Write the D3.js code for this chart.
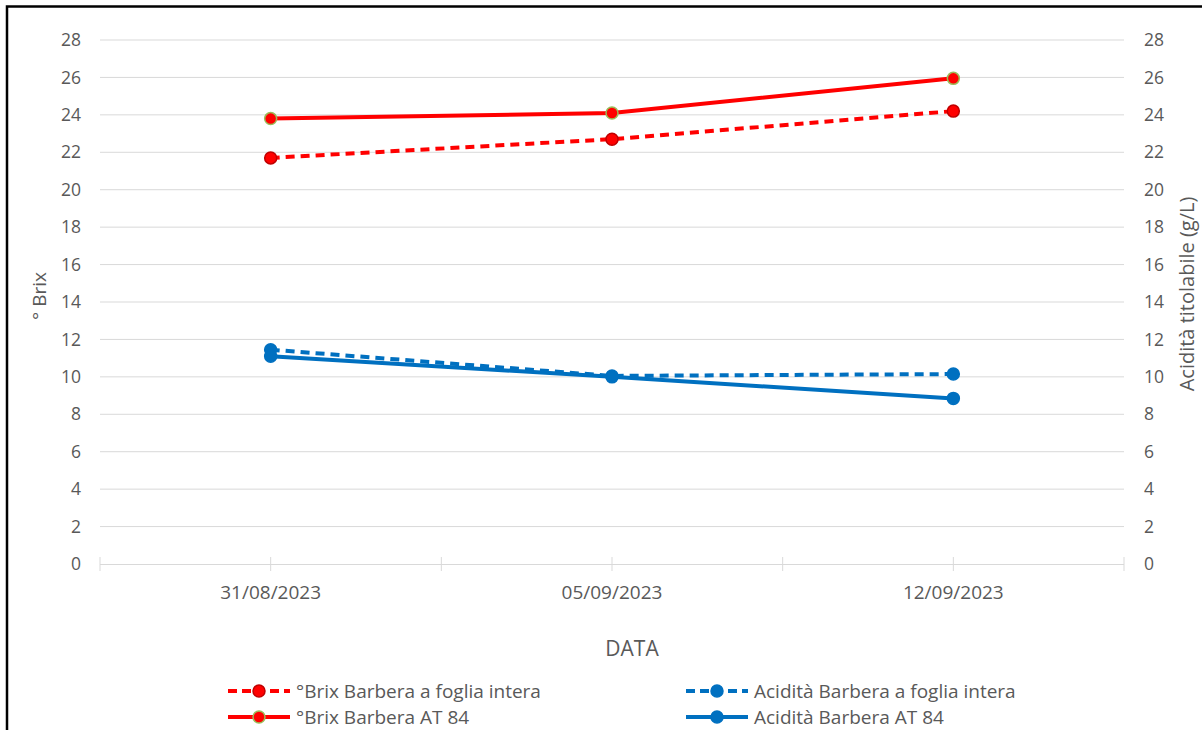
<!DOCTYPE html>
<html>
<head>
<meta charset="utf-8">
<script src="https://cdn.jsdelivr.net/npm/d3@7"></script>
<style>
body { margin: 0; background: #fff; }
text { font-family: "Open Sans", sans-serif; fill: #595959; }
</style>
</head>
<body>
<div></div>
<script>
var width = 1202;
var height = 730;

var dates = ['31/08/2023', '05/09/2023', '12/09/2023'];
var brixFoglia = [21.7, 22.7, 24.2];
var brixAT84 = [23.8, 24.1, 25.95];
var acidFoglia = [11.45, 10.05, 10.15];
var acidAT84 = [11.1, 10.0, 8.85];
var yTicks = [0, 2, 4, 6, 8, 10, 12, 14, 16, 18, 20, 22, 24, 26, 28];

var series = [
    { name: '°Brix Barbera a foglia intera', values: brixFoglia, color: '#ff0000', dash: '9,6', stroke: '#c00000' },
    { name: 'Acidità Barbera a foglia intera', values: acidFoglia, color: '#0070c0', dash: '9,6', stroke: '#0070c0' },
    { name: '°Brix Barbera AT 84', values: brixAT84, color: '#ff0000', dash: null, stroke: '#9bbb59' },
    { name: 'Acidità Barbera AT 84', values: acidAT84, color: '#0070c0', dash: null, stroke: '#0070c0' }
];

var svg = d3.select('div')
    .append('svg').attr('width', width).attr('height', height);

// frame, cut off on right and bottom like the source screenshot
svg.append('path')
    .attr('d', 'M7,' + height + 'V6.5H' + width)
    .attr('fill', 'none').attr('stroke', '#000').attr('stroke-width', 2.5);

var plotLeft = 100, plotRight = 1124, plotTop = 40, plotBottom = 564;

var x = d3.scaleBand().domain(dates).range([plotLeft, plotRight]);
var y = d3.scaleLinear().domain([0, 28]).range([plotBottom, plotTop]);

var g = svg.append('g');

// gridlines
g.selectAll('line.grid')
    .data(yTicks.filter(function (d) { return d > 0; }))
    .enter().append('line')
    .attr('x1', plotLeft).attr('x2', plotRight)
    .attr('y1', function (d) { return y(d); })
    .attr('y2', function (d) { return y(d); })
    .attr('stroke', '#d9d9d9').attr('stroke-width', 1);

// left axis labels
g.selectAll('text.yl')
    .data(yTicks).enter().append('text')
    .attr('x', 81).attr('y', function (d) { return y(d); })
    .attr('dy', '0.35em').attr('text-anchor', 'end')
    .style('font-size', '17.5px')
    .text(function (d) { return d; });

// right axis labels
g.selectAll('text.yr')
    .data(yTicks).enter().append('text')
    .attr('x', 1144).attr('y', function (d) { return y(d); })
    .attr('dy', '0.35em').attr('text-anchor', 'start')
    .style('font-size', '17.5px')
    .text(function (d) { return d; });

// x axis
g.append('line')
    .attr('x1', plotLeft).attr('x2', plotRight)
    .attr('y1', plotBottom + 0.5).attr('y2', plotBottom + 0.5)
    .attr('stroke', '#d9d9d9');

var edges = [];
dates.forEach(function (d) { edges.push(x(d)); edges.push(x(d) + x.bandwidth() / 2); });
edges.push(plotRight);
g.selectAll('line.xt')
    .data(edges).enter().append('line')
    .attr('x1', function (d) { return d; }).attr('x2', function (d) { return d; })
    .attr('y1', plotBottom - 7).attr('y2', plotBottom + 7)
    .attr('stroke', '#d9d9d9');

g.selectAll('text.xl')
    .data(dates).enter().append('text')
    .attr('x', function (d) { return x(d) + x.bandwidth() / 2; })
    .attr('y', 599).attr('text-anchor', 'middle')
    .style('font-size', '19px')
    .text(function (d) { return d; });

// axis titles
svg.append('text')
    .attr('transform', 'translate(46,296) rotate(-90)')
    .attr('text-anchor', 'middle')
    .style('font-size', '19px')
    .text('° Brix');

svg.append('text')
    .attr('transform', 'translate(1194,294) rotate(-90)')
    .attr('text-anchor', 'middle')
    .style('font-size', '20px')
    .text('Acidità  titolabile (g/L)');

svg.append('text')
    .attr('x', 632).attr('y', 656)
    .attr('text-anchor', 'middle')
    .style('font-size', '21px')
    .text('DATA');

// lines
var line = d3.line()
    .x(function (d, i) { return x(dates[i]) + x.bandwidth() / 2; })
    .y(function (d) { return y(d); });

var sg = g.selectAll('g.series')
    .data(series).enter().append('g');

sg.append('path')
    .attr('d', function (d) { return line(d.values); })
    .attr('fill', 'none')
    .attr('stroke', function (d) { return d.color; })
    .attr('stroke-width', 4)
    .attr('stroke-dasharray', function (d) { return d.dash; });

sg.selectAll('circle')
    .data(function (d) {
        return d.values.map(function (v, i) { return { v: v, i: i, s: d }; });
    })
    .enter().append('circle')
    .attr('cx', function (d) { return x(dates[d.i]) + x.bandwidth() / 2; })
    .attr('cy', function (d) { return y(d.v); })
    .attr('r', 6)
    .attr('fill', function (d) { return d.s.color; })
    .attr('stroke', function (d) { return d.s.stroke; })
    .attr('stroke-width', 1.5);

// legend
var legend = svg.append('g');
var lg = legend.selectAll('g')
    .data(series).enter().append('g')
    .attr('transform', function (d, i) {
        return 'translate(' + (i % 2 === 0 ? 228 : 686) + ',' + (i < 2 ? 691 : 717) + ')';
    });

lg.append('line')
    .attr('x1', 0).attr('x2', 62)
    .attr('stroke', function (d) { return d.color; })
    .attr('stroke-width', 4)
    .attr('stroke-dasharray', function (d) { return d.dash ? '9,5' : null; });

lg.append('circle')
    .attr('cx', 31).attr('r', 6)
    .attr('fill', function (d) { return d.color; })
    .attr('stroke', function (d) { return d.stroke; })
    .attr('stroke-width', 1.5);

lg.append('text')
    .attr('x', 68).attr('dy', '0.35em')
    .style('font-size', '19px')
    .text(function (d) { return d.name; });
</script>
</body>
</html>
